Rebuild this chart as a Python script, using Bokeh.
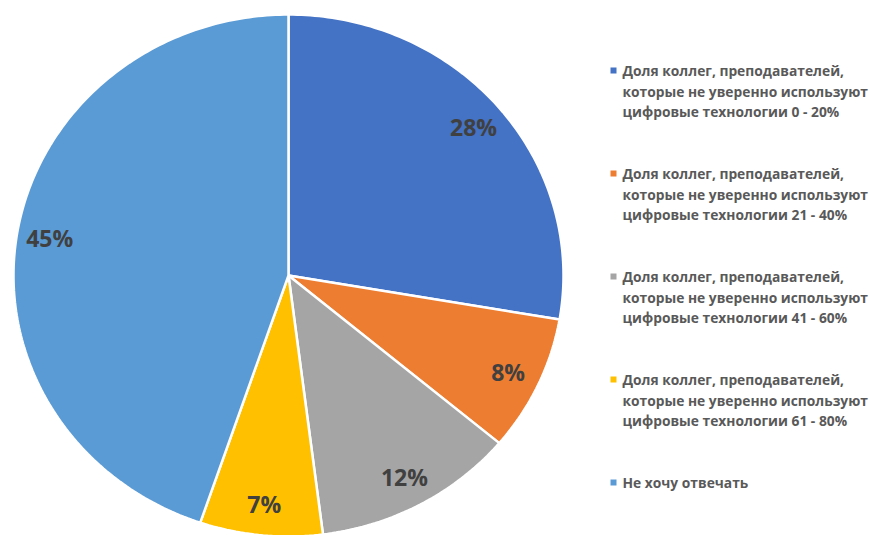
import numpy as np
from bokeh.plotting import figure
from bokeh.models import Range1d, ColumnDataSource
from bokeh.core.properties import value
from bokeh.embed import file_html
from bokeh.resources import INLINE

# ---- data ----
categories = [
    "Доля коллег, преподавателей,\nкоторые не уверенно используют\nцифровые технологии 0 - 20%",
    "Доля коллег, преподавателей,\nкоторые не уверенно используют\nцифровые технологии 21 - 40%",
    "Доля коллег, преподавателей,\nкоторые не уверенно используют\nцифровые технологии 41 - 60%",
    "Доля коллег, преподавателей,\nкоторые не уверенно используют\nцифровые технологии 61 - 80%",
    "Не хочу отвечать",
]
shares = [27.7, 8.4, 11.9, 7.2, 44.8]
colors = ["#4472C4", "#ED7D31", "#A5A5A5", "#FFC000", "#5B9BD5"]

W, H = 869, 535
CX, CY = 288, 275       # pie centre (pixels from top-left)
RX, RY = 275, 261       # pie radii
LABEL_R = 0.88

p = figure(width=W, height=H, output_backend="svg", toolbar_location=None,
           x_range=Range1d(0, W), y_range=Range1d(H, 0), min_border=0)
p.axis.visible = False
p.grid.visible = False
p.outline_line_color = None
p.background_fill_color = "white"
p.border_fill_color = "white"

vals = np.array(shares, dtype=float)
frac = vals / vals.sum()
ends = np.cumsum(frac)
starts = ends - frac

xs, ys, lx, ly, labels = [], [], [], [], []
for s, e, f in zip(starts, ends, frac):
    t = np.linspace(s, e, max(int(f * 400), 4)) * 2 * np.pi
    xs.append(list(np.concatenate([[CX], CX + RX * np.sin(t), [CX]])))
    ys.append(list(np.concatenate([[CY], CY - RY * np.cos(t), [CY]])))
    m = (s + e) / 2 * 2 * np.pi
    lx.append(CX + LABEL_R * RX * np.sin(m))
    ly.append(CY - LABEL_R * RY * np.cos(m))
    labels.append(f"{round(f * 100)}%")

p.patches(xs=xs, ys=ys, fill_color=colors, line_color="white", line_width=2.5)
p.text(x=lx, y=ly, text=labels, text_align="center", text_baseline="middle",
       text_font=value("Open Sans"), text_font_style="bold", text_font_size="23px",
       text_color="#404040")

# ---- legend ----
LEG_X, LEG_Y0, GROUP_DY, LINE_DY = 613, 70, 103, 20.5
sq_x, sq_y, tx, ty, tt = [], [], [], [], []
for i, (lab, c) in enumerate(zip(categories, colors)):
    gy = LEG_Y0 + i * GROUP_DY
    sq_x.append(LEG_X)
    sq_y.append(gy)
    for j, line in enumerate(lab.split("\n")):
        tx.append(LEG_X + 9)
        ty.append(gy + j * LINE_DY)
        tt.append(line)
p.scatter(x=sq_x, y=sq_y, marker="square", size=6, fill_color=colors, line_color=None)
p.text(x=tx, y=ty, text=tt, text_align="left", text_baseline="middle",
       text_font=value("Open Sans"), text_font_style="bold", text_font_size="13.8px",
       text_color="#595959")

open("out.html", "w").write(file_html(p, INLINE))
